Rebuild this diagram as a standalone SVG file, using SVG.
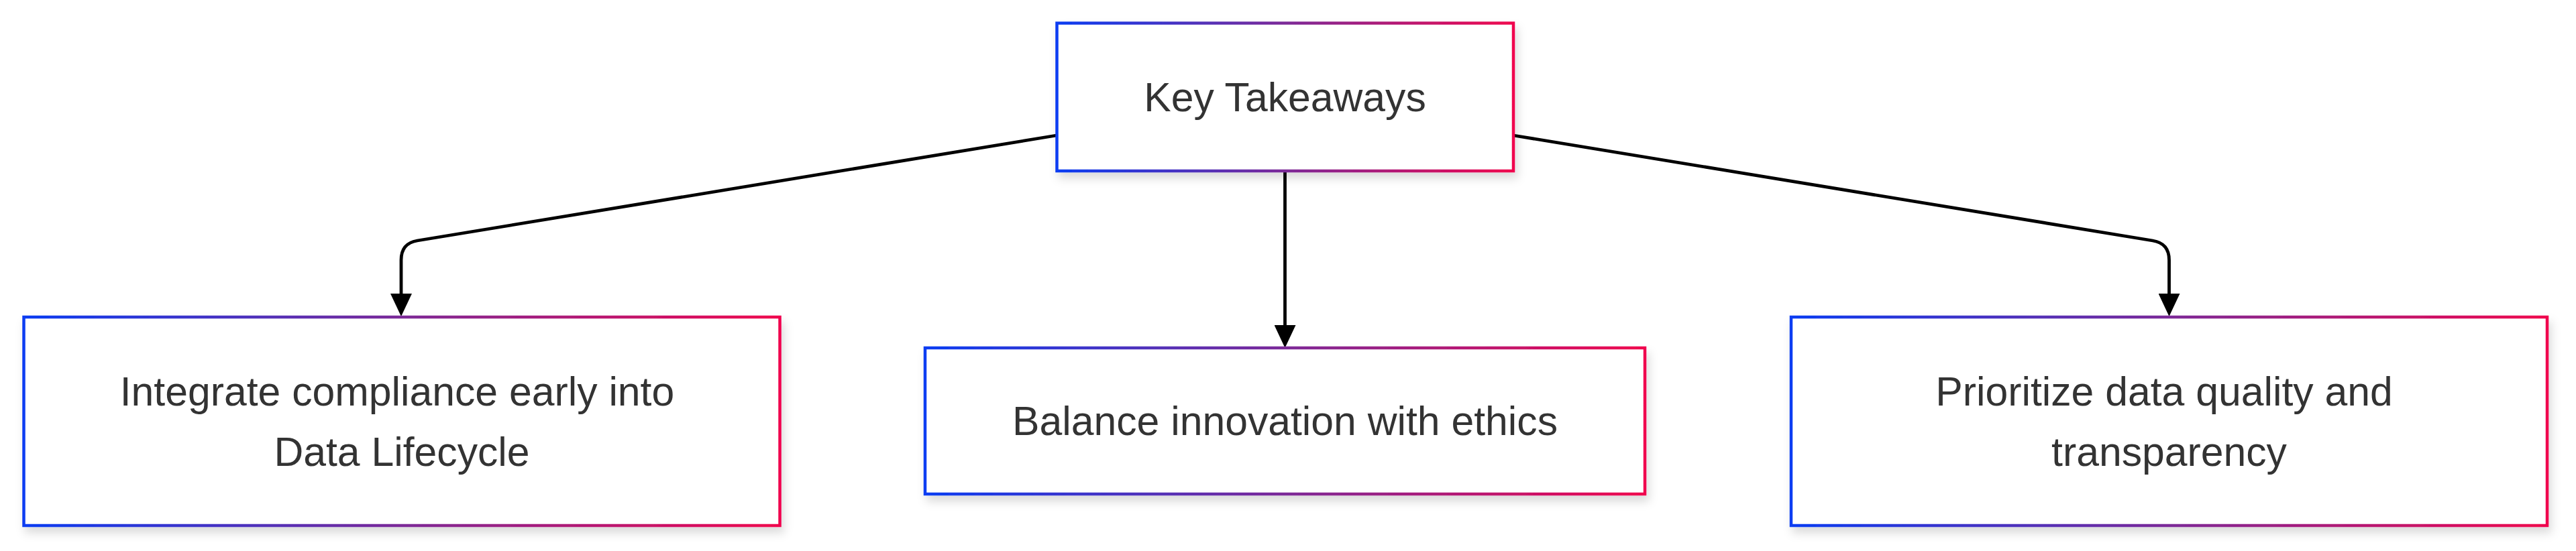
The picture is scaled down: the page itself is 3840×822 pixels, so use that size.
<svg xmlns="http://www.w3.org/2000/svg" width="3840" height="822" viewBox="0 0 3840 822">
  <style>
    .node rect { fill: #ffffff; stroke: url(#grad); stroke-width: 4.5; filter: url(#shadow); }
    .node text { font-family: "Liberation Sans", Arial, sans-serif; font-size: 60.7px; fill: #333333; text-anchor: middle; }
    .edge { fill: none; stroke: #000000; stroke-width: 4.8; }
  </style>
  <defs>
    <linearGradient id="grad" x1="0" y1="0" x2="1" y2="0">
      <stop offset="0" stop-color="#0a3cf2"/>
      <stop offset="0.5" stop-color="#7c2a98"/>
      <stop offset="1" stop-color="#f0064e"/>
    </linearGradient>
    <filter id="shadow" x="-10%" y="-20%" width="120%" height="150%">
      <feDropShadow dx="4" dy="9" stdDeviation="7" flood-color="#000000" flood-opacity="0.14"/>
    </filter>
    <marker id="arrow" markerUnits="userSpaceOnUse" markerWidth="34" markerHeight="32" refX="0" refY="16" orient="auto" viewBox="0 0 34 32">
      <path d="M0,0 L34,16 L0,32 z" fill="#000000"/>
    </marker>
  </defs>
  <rect width="3840" height="822" fill="#ffffff"/>
  <g id="connectors">
    <path class="edge" d="M1575,202 L622,359 Q598,363 598,388 L598,438" marker-end="url(#arrow)"/>
    <path class="edge" d="M1915.5,257 L1915.5,485" marker-end="url(#arrow)"/>
    <path class="edge" d="M2256,202 L3209,359 Q3233.5,363 3233.5,388 L3233.5,438" marker-end="url(#arrow)"/>
  </g>
  <g id="node-key" class="node">
    <rect x="1575.5" y="34.5" width="680.5" height="220.5"/>
    <text x="1915.5" y="166">Key Takeaways</text>
  </g>
  <g id="node-integrate" class="node">
    <rect x="35.5" y="473" width="1127" height="311"/>
    <text x="592" y="605">Integrate compliance early into</text>
    <text x="599" y="695">Data Lifecycle</text>
  </g>
  <g id="node-balance" class="node">
    <rect x="1379" y="519" width="1073" height="218"/>
    <text x="1915.5" y="649">Balance innovation with ethics</text>
  </g>
  <g id="node-prioritize" class="node">
    <rect x="2670" y="473" width="1127" height="311"/>
    <text x="3226" y="605">Prioritize data quality and</text>
    <text x="3233.5" y="695">transparency</text>
  </g>
</svg>
